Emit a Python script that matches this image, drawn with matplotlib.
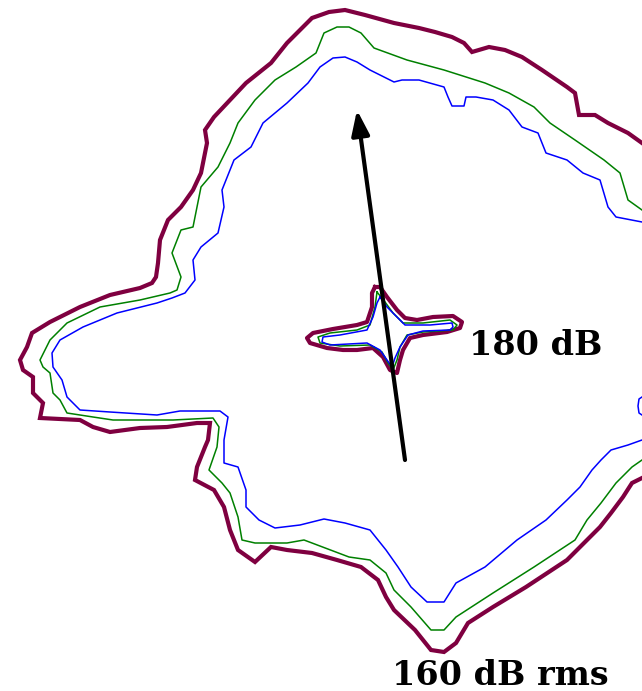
import matplotlib
matplotlib.use("Agg")
import matplotlib.pyplot as plt

# --- Contour data (image pixel coordinates, y grows downward) ---
# 160 dB rms contours (open at the right edge)
outer_x = [642, 628, 608, 595, 579, 575, 567, 542, 522, 505, 489, 472, 464, 452, 435, 419, 394, 365, 345, 329,
           312, 300, 287, 271, 246, 230, 214, 205, 207, 201, 193, 181, 168, 160, 158, 156, 152, 140, 110, 80,
           50, 32, 27, 20, 23, 33, 33, 43, 40, 80, 93, 110, 140, 167, 197, 210, 208, 205, 197, 195,
           214, 224, 230, 238, 255, 271, 287, 312, 337, 361, 378, 386, 394, 415, 431, 444, 456, 468, 493, 526,
           567, 600, 611, 623, 632, 642]
outer_y = [143, 133, 123, 115, 115, 93, 87, 70, 57, 50, 47, 52, 43, 37, 32, 28, 23, 15, 10, 12,
           18, 30, 43, 63, 83, 100, 117, 130, 143, 173, 190, 207, 220, 240, 263, 277, 283, 288, 295, 307,
           322, 333, 347, 360, 370, 377, 393, 403, 418, 420, 427, 432, 428, 427, 423, 423, 440, 447, 467, 480,
           490, 507, 530, 550, 562, 547, 550, 553, 560, 567, 580, 597, 610, 630, 650, 652, 643, 623, 607, 587,
           560, 527, 513, 497, 483, 478]

mid_x = [642, 628, 620, 604, 575, 550, 534, 509, 485, 444, 407, 374, 361, 349, 337, 324, 316, 296, 275, 255,
         238, 230, 218, 201, 197, 193, 181, 172, 181, 177, 170, 140, 100, 67, 50, 40, 43, 50, 53, 60,
         67, 93, 113, 173, 213, 219, 217, 209, 222, 230, 238, 242, 255, 287, 304, 312, 349, 370, 386, 394,
         411, 431, 444, 456, 493, 534, 575, 587, 601, 616, 632, 642]
mid_y = [210, 200, 173, 160, 140, 123, 107, 93, 83, 70, 60, 48, 33, 27, 27, 33, 53, 67, 80, 100,
         123, 143, 167, 187, 207, 227, 230, 253, 277, 290, 293, 300, 307, 323, 340, 360, 367, 373, 393, 400,
         413, 417, 420, 420, 418, 427, 447, 470, 483, 493, 517, 540, 543, 543, 540, 543, 557, 560, 573, 590,
         607, 630, 630, 617, 593, 567, 540, 520, 503, 483, 467, 460]

inner_x = [642, 616, 608, 600, 583, 567, 546, 538, 522, 509, 493, 476, 466, 464, 452, 448, 444, 419, 402, 394,
           370, 357, 345, 333, 320, 308, 287, 263, 251, 234, 222, 224, 218, 201, 193, 195, 185, 172, 157, 117,
           83, 60, 52, 53, 62, 67, 80, 110, 157, 180, 220, 228, 224, 224, 238, 246, 246, 259, 275, 300,
           324, 345, 370, 386, 398, 411, 427, 444, 456, 485, 517, 546, 567, 580, 592, 601, 611, 628, 642]
inner_y = [222, 217, 207, 180, 173, 160, 153, 133, 127, 110, 100, 97, 97, 106, 106, 97, 87, 80, 80, 82,
           70, 62, 57, 58, 67, 83, 103, 123, 147, 160, 190, 207, 233, 247, 260, 280, 293, 298, 303, 313,
           327, 340, 353, 367, 380, 397, 410, 412, 415, 411, 411, 417, 440, 463, 467, 490, 507, 520, 528, 525,
           519, 523, 530, 550, 567, 587, 602, 602, 583, 567, 540, 520, 500, 487, 470, 460, 450, 445, 440]

# small piece of the inner contour poking in at the right edge
bulge_x = [642, 639, 638, 639, 642]
bulge_y = [397, 399, 406, 413, 415]

# 180 dB contours (closed star shapes)
star_outer_x = [375, 380, 387, 397, 405, 417, 433, 453, 462, 460, 447, 423, 410, 403, 400, 397, 390, 383, 373, 357,
                343, 327, 310, 307, 313, 333, 357, 367, 372, 372, 375]
star_outer_y = [287, 287, 297, 310, 318, 320, 317, 316, 322, 328, 332, 335, 338, 350, 360, 373, 370, 357, 348, 350,
                350, 348, 343, 338, 333, 329, 325, 322, 307, 293, 287]

star_mid_x = [377, 385, 393, 403, 423, 450, 457, 453, 423, 407, 400, 397, 393, 388, 382, 370, 340, 320, 318, 330,
              357, 370, 375, 377]
star_mid_y = [292, 302, 313, 323, 323, 320, 325, 330, 332, 335, 347, 360, 370, 363, 352, 345, 346, 343, 337, 333,
              330, 325, 307, 292]

star_inner_x = [380, 387, 397, 405, 430, 452, 453, 450, 423, 408, 400, 395, 392, 387, 380, 367, 330, 322, 323, 340,
                367, 373, 377, 380]
star_inner_y = [297, 307, 317, 325, 325, 323, 327, 330, 331, 335, 347, 358, 367, 360, 350, 343, 345, 342, 337, 335,
                330, 317, 303, 297]

# arrow (tail -> head) and labels
arrow_tail = (405, 460)
arrow_head = (357, 110)
labels = ["180 dB", "160 dB rms"]
label_pos = [(469, 355), (392, 685)]

MAROON = "#7f0040"
GREEN = "#008000"
BLUE = "#0000ff"

fig = plt.figure(figsize=(6.42, 6.91), dpi=100, facecolor="white")
ax = fig.add_axes([0, 0, 1, 1])
ax.set_xlim(0, 642)
ax.set_ylim(691, 0)
ax.axis("off")

# 160 dB rms contours
ax.plot(outer_x, outer_y, color=MAROON, lw=3.0, solid_joinstyle="miter")
ax.plot(mid_x, mid_y, color=GREEN, lw=1.1)
ax.plot(inner_x, inner_y, color=BLUE, lw=1.1)
ax.plot(bulge_x, bulge_y, color=BLUE, lw=1.1)

# 180 dB contours
ax.plot(star_outer_x, star_outer_y, color=MAROON, lw=3.0)
ax.plot(star_mid_x, star_mid_y, color=GREEN, lw=1.1)
ax.plot(star_inner_x, star_inner_y, color=BLUE, lw=1.1)

ax.annotate("", xy=arrow_head, xytext=arrow_tail,
            arrowprops=dict(arrowstyle="-|>,head_length=0.5,head_width=0.18",
                            mutation_scale=30, lw=3.0, color="black",
                            shrinkA=0, shrinkB=0))

for txt, (x, y) in zip(labels, label_pos):
    ax.text(x, y, txt, fontsize=24, fontweight="bold", family="DejaVu Serif",
            ha="left", va="baseline", color="black")

fig.savefig("out.png", dpi=100, facecolor="white")
